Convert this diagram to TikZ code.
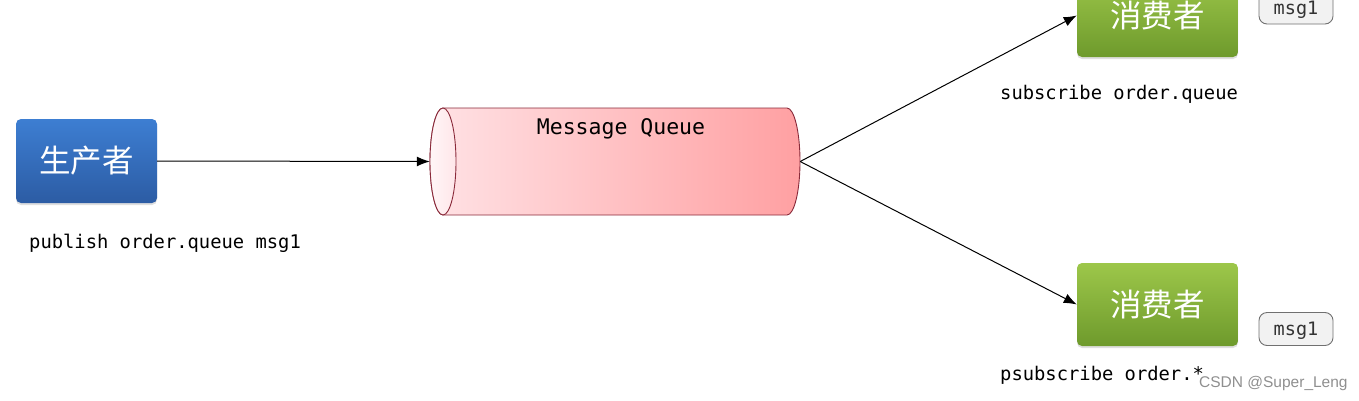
\documentclass[tikz,border=0pt]{standalone}
\usepackage{fontspec}
\setmainfont{Liberation Sans}
\setmonofont{DejaVu Sans Mono}
\newfontfamily\cjk{Noto Sans CJK SC}
\usetikzlibrary{arrows.meta,shadows}
\definecolor{blueTop}{HTML}{3D7ED2}
\definecolor{blueBot}{HTML}{2C5CA4}
\definecolor{greenTop}{HTML}{9DC74A}
\definecolor{greenBot}{HTML}{6E9A2C}
\definecolor{mqLeft}{HTML}{FFE2E5}
\definecolor{mqRight}{HTML}{FFA0A2}
\definecolor{mqFaceL}{HTML}{FFF6F7}
\definecolor{mqFaceR}{HTML}{FFE6E9}
\definecolor{mqLine}{HTML}{8A2A3A}
\definecolor{msgFill}{HTML}{F2F2F2}
\definecolor{msgLine}{HTML}{707070}
\definecolor{wmark}{HTML}{8F8F8F}
\begin{document}
\begin{tikzpicture}[x=1pt,y=-1pt,
  actor/.style={rounded corners=5pt, inner sep=0pt, text=white,
    font=\cjk\fontsize{31.5}{31.5}\selectfont,
    drop shadow={shadow xshift=0pt, shadow yshift=-2pt, opacity=0.25}},
  prodbox/.style={actor, top color=blueTop, bottom color=blueBot,
    minimum width=141pt, minimum height=84pt},
  consbox/.style={actor, top color=greenTop, bottom color=greenBot,
    minimum width=161pt, minimum height=83pt},
  msgbox/.style={draw=msgLine, fill=msgFill, rounded corners=8pt, line width=0.9pt,
    minimum width=74pt, minimum height=33pt, inner sep=0pt, text depth=0pt,
    text=black!80, font=\ttfamily\fontsize{18.5}{18.5}\selectfont},
  cmd/.style={font=\ttfamily\fontsize{18.8}{18.8}\selectfont, anchor=base west, inner sep=0pt},
  conn/.style={-{Latex[length=13pt,width=10pt]}, line width=1pt},
]
\useasboundingbox (0,0) rectangle (1359,400);
\clip (0,0) rectangle (1359,400);

% producer
\node[prodbox] (prod) at (86.5,161) {生产者};
\node[cmd] (pubcmd) at (29,248) {publish order.queue msg1};

% message queue cylinder
\node[minimum width=370pt, minimum height=107pt, inner sep=0pt] (mq) at (615,161.5) {};
\path[left color=mqLeft, right color=mqRight, draw=mqLine, line width=0.9pt]
  (443,108) -- (787,108) arc[start angle=-90, end angle=90, x radius=13, y radius=53.5]
  -- (443,215) arc[start angle=90, end angle=270, x radius=13, y radius=53.5] -- cycle;
\path[left color=mqFaceL, right color=mqFaceR, draw=mqLine, line width=0.9pt]
  (443,161.5) ellipse [x radius=13, y radius=53.5];
\node[font=\ttfamily\fontsize{21.5}{21.5}\selectfont, anchor=base, inner sep=0pt] (mqlabel) at (621,134) {Message Queue};

% consumers
\node[consbox] (c1) at (1157.5,15.5) {消费者};
\node[consbox] (c2) at (1157.5,304.5) {消费者};
\node[msgbox] (m1) at (1296,7.5) {msg1};
\node[msgbox] (m2) at (1296,329) {msg1};
\node[cmd] (subcmd) at (1000,99) {subscribe order.queue};
\node[cmd] (psubcmd) at (1000,380) {psubscribe order.*};

% connectors
\draw[conn] (prod.east) -- (mq.west);
\draw[conn] (mq.east) -- (c1.west);
\draw[conn] (mq.east) -- (c2.west);

% watermark
\node[anchor=base west, inner sep=0pt, text=wmark, font=\fontsize{15.5}{15.5}\selectfont] (wm) at (1199,387) {CSDN @Super\_Leng};
\end{tikzpicture}
\end{document}
